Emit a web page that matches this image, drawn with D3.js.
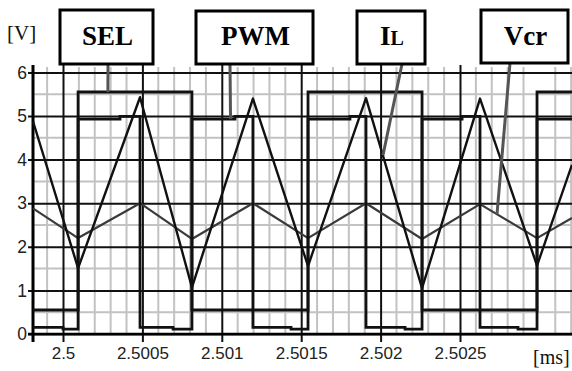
<!DOCTYPE html>
<html>
<head>
<meta charset="utf-8">
<script src="https://cdn.jsdelivr.net/npm/d3@7/dist/d3.min.js"></script>
<style>
  html, body { margin: 0; padding: 0; background: #fff; }
  svg { display: block; }
</style>
</head>
<body>
<svg id="chart" width="572" height="371"></svg>
<script>
// ---------- data (time in ms, values in V) ----------
const xTickValues = [2.5, 2.5005, 2.501, 2.5015, 2.502, 2.5025];
const xTickLabels = ["2.5", "2.5005", "2.501", "2.5015", "2.502", "2.5025"];
const yTickValues = [0, 1, 2, 3, 4, 5, 6];
const yTickLabels = ["0", "1", "2", "3", "4", "5", "6"];

// inductor current / triangle carrier (IL)
const ilTimes = [2.499811, 2.500095, 2.500485, 2.500812, 2.501196, 2.501543, 2.501908, 2.502261, 2.502626, 2.502985, 2.503205];
const ilValues = [4.88, 1.51, 5.43, 1.07, 5.40, 1.56, 5.41, 1.05, 5.40, 1.57, 3.88];

// Vcr
const vcrTimes = [2.499811, 2.500095, 2.500485, 2.500812, 2.501196, 2.501543, 2.501908, 2.502261, 2.502626, 2.502985, 2.503205];
const vcrValues = [2.88, 2.20, 3.00, 2.18, 3.00, 2.20, 3.00, 2.18, 2.98, 2.20, 2.66];

// SEL square wave (step after)
const selTimes = [2.499811, 2.500095, 2.500812, 2.501543, 2.502261, 2.502985, 2.503205];
const selValues = [0.55, 5.55, 0.55, 5.55, 0.55, 5.55, 5.55];

// PWM square wave (step after)
const pwmTimes = [2.499811, 2.5, 2.500095, 2.500359, 2.500485, 2.500693, 2.500812, 2.501083, 2.501196, 2.501436,
                  2.501543, 2.501807, 2.501908, 2.502154, 2.502261, 2.502513, 2.502626, 2.502865, 2.502985, 2.503205];
const pwmValues = [0.15, 0.11, 4.93, 4.99, 0.15, 0.11, 4.93, 4.99, 0.15, 0.11,
                   4.93, 4.99, 0.15, 0.11, 4.93, 4.99, 0.15, 0.11, 4.93, 4.93];

// labels and where their leaders point (data coordinates)
const labelNames = ["SEL", "PWM", "IL", "Vcr"];
const leaderTargetTimes = [2.500283, 2.501055, 2.502015, 2.502733];
const leaderTargetValues = [5.55, 4.93, 4.10, 2.75];

// ---------- layout ----------
const svg = d3.select("#chart");
const plotLeft = 33, plotRight = 572, plotTop = 65, plotBottom = 342;

const x = d3.scaleLinear().domain([2.5, 2.5025]).range([63, 460]);
const y = d3.scaleLinear().domain([0, 6]).range([334, 72.4]);

// minor grid
const xMinor = d3.range(-1, 33).map(i => 2.5 + i * 0.0001).filter(v => Math.abs(Math.round(v / 0.0005) * 0.0005 - v) > 1e-9);
const yMinor = d3.range(0, 6).map(i => i + 0.5);

const grid = svg.append("g");
grid.selectAll("line.vminor").data(xMinor).join("line")
  .attr("x1", d => x(d)).attr("x2", d => x(d))
  .attr("y1", plotTop + 2).attr("y2", y(0))
  .attr("stroke", "#c2c2c2").attr("stroke-width", 2);
grid.selectAll("line.hminor").data(yMinor).join("line")
  .attr("x1", plotLeft).attr("x2", plotRight)
  .attr("y1", d => y(d)).attr("y2", d => y(d))
  .attr("stroke", "#c2c2c2").attr("stroke-width", 2);

// major grid via axes
const yAxis = d3.axisLeft(y).tickValues(yTickValues)
  .tickFormat((d, i) => yTickLabels[i])
  .tickSize(-(plotRight - 28)).tickPadding(1);
const gy = svg.append("g").attr("transform", "translate(28,0)").call(yAxis);
gy.select(".domain").remove();
gy.selectAll("line").attr("stroke", "#111").attr("stroke-width", 2);
gy.selectAll("text").attr("font-family", "Liberation Sans, Arial, sans-serif")
  .attr("font-size", 17.5).attr("fill", "#222");

const xAxis = d3.axisBottom(x).tickValues(xTickValues)
  .tickFormat((d, i) => xTickLabels[i])
  .tickSize(-(plotBottom - plotTop)).tickPadding(5);
const gx = svg.append("g").attr("transform", `translate(0,${plotBottom})`).call(xAxis);
gx.select(".domain").remove();
gx.selectAll("line").attr("stroke", "#111").attr("stroke-width", 2);
gx.selectAll("text").attr("font-family", "Liberation Sans, Arial, sans-serif")
  .attr("font-size", 17).attr("fill", "#222");

// left axis line
svg.append("line").attr("x1", plotLeft).attr("x2", plotLeft)
  .attr("y1", plotTop).attr("y2", plotBottom)
  .attr("stroke", "#000").attr("stroke-width", 3);
// zero line emphasis
svg.append("line").attr("x1", 28).attr("x2", plotRight)
  .attr("y1", y(0)).attr("y2", y(0))
  .attr("stroke", "#000").attr("stroke-width", 2.5);

// ---------- waveforms ----------
const toPts = (ts, vs) => ts.map((t, i) => [t, vs[i]]);
const lineLin = d3.line().x(d => x(d[0])).y(d => y(d[1]));
const lineStep = d3.line().x(d => x(d[0])).y(d => y(d[1])).curve(d3.curveStepAfter);

svg.append("path").attr("d", lineLin(toPts(vcrTimes, vcrValues)))
  .attr("fill", "none").attr("stroke", "#3a3a3a").attr("stroke-width", 2.2).attr("stroke-linejoin", "round");
svg.append("path").attr("d", lineLin(toPts(ilTimes, ilValues)))
  .attr("fill", "none").attr("stroke", "#111").attr("stroke-width", 2.4).attr("stroke-linejoin", "round");
svg.append("path").attr("d", lineStep(toPts(pwmTimes, pwmValues)))
  .attr("fill", "none").attr("stroke", "#111").attr("stroke-width", 2.8);
svg.append("path").attr("d", lineStep(toPts(selTimes, selValues)))
  .attr("fill", "none").attr("stroke", "#111").attr("stroke-width", 2.8);

// ---------- label boxes ----------
const boxes = [
  {x0: 60, x1: 153, y0: 10, y1: 64, lx: 108},
  {x0: 196, x1: 313, y0: 11, y1: 64, lx: 230},
  {x0: 357, x1: 425, y0: 11, y1: 64, lx: 402},
  {x0: 481, x1: 568, y0: 10, y1: 63, lx: 510}
];
boxes.forEach((b, i) => {
  svg.append("line")
    .attr("x1", b.lx).attr("y1", b.y1)
    .attr("x2", x(leaderTargetTimes[i])).attr("y2", y(leaderTargetValues[i]))
    .attr("stroke", "#555").attr("stroke-width", 3);
  svg.append("rect").attr("x", b.x0).attr("y", b.y0)
    .attr("width", b.x1 - b.x0).attr("height", b.y1 - b.y0)
    .attr("fill", "#fff").attr("stroke", "#000").attr("stroke-width", 3);
  const t = svg.append("text").attr("x", (b.x0 + b.x1) / 2 + 1).attr("y", 45)
    .attr("text-anchor", "middle")
    .attr("font-family", "Liberation Serif, Times New Roman, serif")
    .attr("font-weight", "bold").attr("font-size", 27).attr("fill", "#000");
  if (labelNames[i] === "IL") {
    t.append("tspan").text("I");
    t.append("tspan").attr("font-size", 20).text("L");
  } else {
    t.text(labelNames[i]);
  }
});

// unit labels
svg.append("text").attr("x", 7).attr("y", 40)
  .attr("font-family", "Liberation Serif, Times New Roman, serif")
  .attr("font-size", 21).attr("fill", "#111").text("[V]");
svg.append("text").attr("x", 533).attr("y", 364)
  .attr("font-family", "Liberation Serif, Times New Roman, serif")
  .attr("font-size", 20).attr("fill", "#111").text("[ms]");
</script>
</body>
</html>
